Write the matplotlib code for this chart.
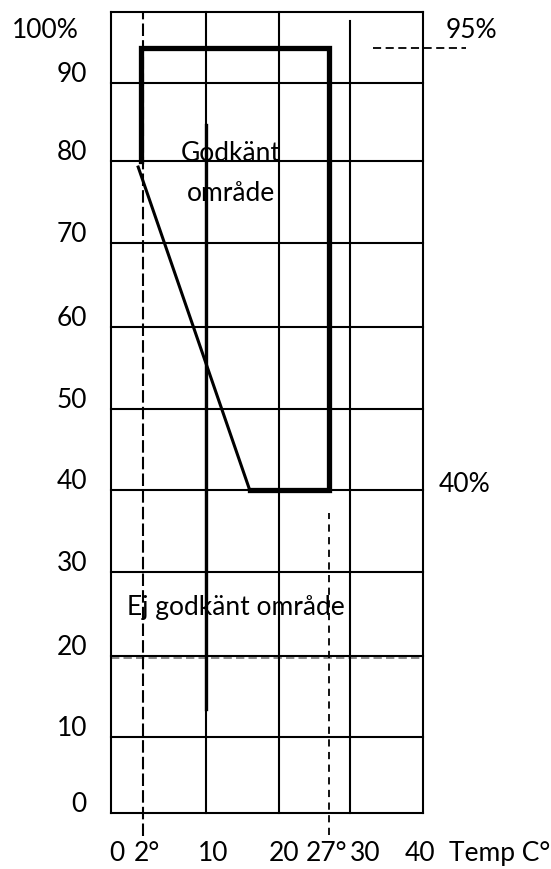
import matplotlib
matplotlib.use("Agg")
import matplotlib.pyplot as plt
import numpy as np

# grid of the chart (temp C, relative humidity %)
temp_grid = [0, 10, 20, 30, 40]
rh_grid = [0, 10, 20, 30, 40, 50, 60, 70, 80, 90, 100]
rh_labels = ["0", "10", "20", "30", "40", "50", "60", "70", "80", "90"]
temp_ticks = [0, 2, 10, 20, 27, 30, 40]
temp_labels = ["0", "2°", "10", "20", "27°", "30", "40"]

# approved zone outline
zone_temp = [1.85, 1.85, 27, 27, 16]
zone_rh = [80, 95, 95, 40, 40]
slope_temp = [16, 1.7]
slope_rh = [40, 79.3]

t_low, t_high = 2, 27
rh_high, rh_low, rh_floor = 95, 40, 20

# the drawing is not evenly spaced, so map the axes piecewise
X_KNOTS = [0, 2, 10, 20, 30, 40]
X_PX = [0, 32, 95, 168, 239, 311.7]
Y_KNOTS = [0, 10, 20, 30, 40, 50, 60, 70, 80, 90, 100]
Y_PX = [0, 76, 157, 241, 323, 404, 486, 570, 652, 730, 801]


def PiecewiseScale(knots, px):
    knots = np.asarray(knots, float)
    px = np.asarray(px, float)

    def lin(v, a, b):
        v = np.asarray(v, float)
        out = np.interp(v, a, b)
        s0 = (b[1] - b[0]) / (a[1] - a[0])
        s1 = (b[-1] - b[-2]) / (a[-1] - a[-2])
        out = np.where(v < a[0], b[0] + (v - a[0]) * s0, out)
        out = np.where(v > a[-1], b[-1] + (v - a[-1]) * s1, out)
        return out

    return (lambda v: lin(v, knots, px)), (lambda p: lin(p, px, knots))


W, H = 551, 869
fig = plt.figure(figsize=(W / 100, H / 100), dpi=100)
ax = fig.add_axes([111 / W, (H - 813.3) / H, 311.7 / W, 801 / H])
ax.set_xscale("function", functions=PiecewiseScale(X_KNOTS, X_PX))
ax.set_yscale("function", functions=PiecewiseScale(Y_KNOTS, Y_PX))
ax.set_xlim(0, 40)
ax.set_ylim(0, 100)
ax.axis("off")

plt.rcParams["font.family"] = ["Lato", "DejaVu Sans"]
fs = 19
black = "black"

#grid
for v in rh_grid:
    ax.plot([temp_grid[0], temp_grid[-1]], [v, v], color=black, lw=1.5, zorder=2, clip_on=False)
ax.plot([temp_grid[0], temp_grid[-1]], [rh_floor - 0.25, rh_floor - 0.25], color="0.45", lw=1.2,
        dashes=(5, 2.5), zorder=2, clip_on=False)
for v in temp_grid:
    top = 98.8 if v == 30 else 100
    ax.plot([v, v], [0, top], color=black, lw=1.5, zorder=2, clip_on=False)
ax.plot([10, 10], [13.5, 84.6], color=black, lw=2.4, zorder=2)

#dashed limits
ax.plot([t_low, t_low], [-3, 100], color=black, lw=1.5, dashes=(6, 2), zorder=3, clip_on=False)
ax.plot([t_high, t_high], [-2.8, 37.2], color=black, lw=1.3, dashes=(4, 3), zorder=3, clip_on=False)
ax.plot([33.2, 45.9], [rh_high, rh_high], color=black, lw=1.3, dashes=(4.5, 2.5), zorder=3, clip_on=False)

#approved zone
ax.plot(zone_temp, zone_rh, color=black, lw=3.8, solid_joinstyle="miter", zorder=4)
ax.plot(slope_temp, slope_rh, color=black, lw=2.2, zorder=4)

#labels
for v, s in zip(rh_grid, rh_labels):
    ax.annotate(s, (0, v), xytext=(-24, 1), textcoords="offset pixels", ha="right", va="baseline",
                fontsize=fs, zorder=1, annotation_clip=False)
ax.annotate("100%", (0, 100), xytext=(-99, -26), textcoords="offset pixels", ha="left",
            va="baseline", fontsize=fs, annotation_clip=False)
ax.annotate("95%", (40, 100), xytext=(23, -26), textcoords="offset pixels", ha="left",
            va="baseline", fontsize=fs, annotation_clip=False)
ax.annotate("40%", (40, 40), xytext=(16, -2), textcoords="offset pixels", ha="left",
            va="baseline", fontsize=fs, annotation_clip=False)

nudge = [6, 4, 7, 5, -2, 15, -3]
for v, s, dx in zip(temp_ticks, temp_labels, nudge):
    ax.annotate(s, (v, 0), xytext=(dx, -48), textcoords="offset pixels", ha="center", va="baseline",
                fontsize=fs, annotation_clip=False)
ax.annotate("Temp C°", (40, 0), xytext=(26, -48), textcoords="offset pixels", ha="left",
            va="baseline", fontsize=fs, annotation_clip=False)

ax.text(13.4, 80, "Godkänt", ha="center", va="baseline", fontsize=fs, zorder=1)
ax.text(13.4, 75.1, "område", ha="center", va="baseline", fontsize=fs, zorder=1)
ax.text(14.1, 24.9, "Ej godkänt område", ha="center", va="baseline", fontsize=fs, zorder=1)

fig.savefig("out.png", dpi=100)
